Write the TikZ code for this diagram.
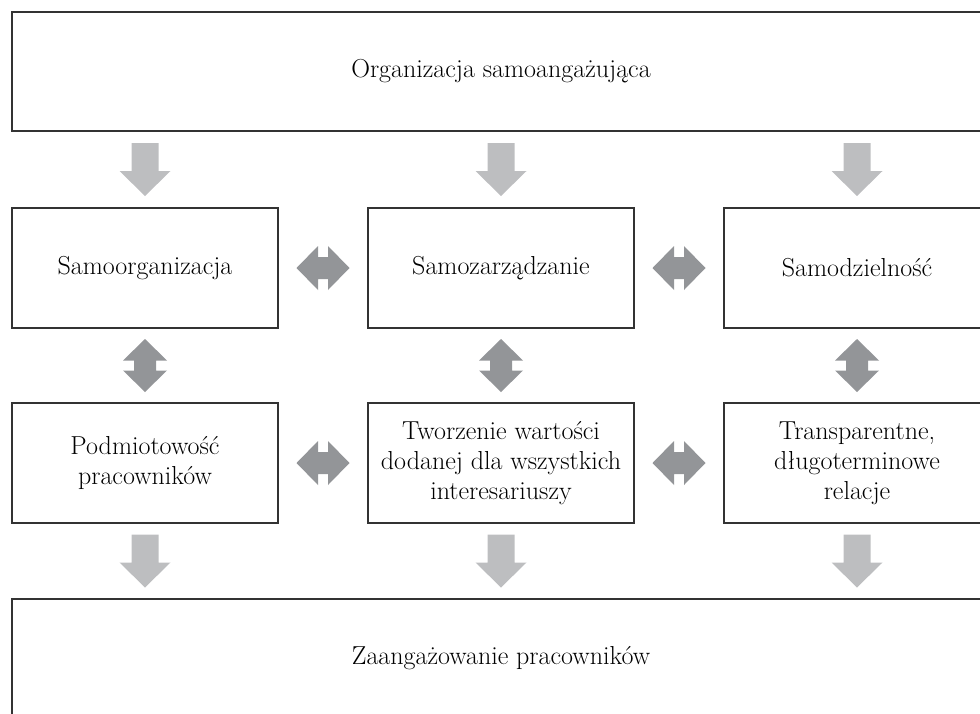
\documentclass[tikz,border=0pt]{standalone}
\usepackage{fontspec}
\usetikzlibrary{calc}
\definecolor{boxline}{HTML}{333333}
\definecolor{lightarr}{HTML}{BDBEC0}
\definecolor{darkarr}{HTML}{939598}
\tikzstyle{bx}=[draw=boxline,line width=1.4pt,minimum width=266pt,minimum height=120pt,align=center,inner sep=0pt,font=\fontsize{26}{30}\selectfont]
\tikzstyle{widebx}=[bx,minimum width=978pt,minimum height=119pt]
\newcommand{\downarr}[1]{\fill[lightarr,shift={(#1)}] (-13.5,-26.5) -- (13.5,-26.5) -- (13.5,1.5) -- (25.5,1.5) -- (0,26.5) -- (-25.5,1.5) -- (-13.5,1.5) -- cycle;}
\newcommand{\harr}[1]{\fill[darkarr,shift={(#1)}] (-26.5,0) -- (-5,-22) -- (-5,-11) -- (5,-11) -- (5,-22) -- (26.5,0) -- (5,22) -- (5,11) -- (-5,11) -- (-5,22) -- cycle;}
\newcommand{\varr}[1]{\fill[darkarr,shift={(#1)}] (0,-26.5) -- (-22,-5) -- (-11,-5) -- (-11,5) -- (-22,5) -- (0,26.5) -- (22,5) -- (11,5) -- (11,-5) -- (22,-5) -- cycle;}

\begin{document}
\begin{tikzpicture}[x=1pt,y=-1pt]
\useasboundingbox (0,0) rectangle (980,713);
\node[widebx] (top) at (501,71.5) {Organizacja samoangażująca};
\node[bx] (samoorg) at (145,268) {Samoorganizacja};
\node[bx] (samozarz) at (501,268) {Samozarządzanie};
\node[bx] (samodz) at (857,268) {Samodzielność};
\node[bx] (podm) at (145,463) {Podmiotowość\\pracowników};
\node[bx] (tworz) at (501,463) {Tworzenie wartości\\dodanej dla wszystkich\\interesariuszy};
\node[bx] (transp) at (857,463) {Transparentne,\\długoterminowe\\relacje};
\node[widebx] (zaang) at (501,658.5) {Zaangażowanie pracowników};
% strzalki w dol
\foreach \n in {samoorg,samozarz,samodz} {\downarr{$(\n.north)!.5!(\n.north |- top.south)$}}
\foreach \n in {podm,tworz,transp} {\downarr{$(\n.south)!.5!(\n.south |- zaang.north)$}}
% strzalki podwojne
\harr{$(samoorg.east)!.5!(samozarz.west)$}
\harr{$(samozarz.east)!.5!(samodz.west)$}
\harr{$(podm.east)!.5!(tworz.west)$}
\harr{$(tworz.east)!.5!(transp.west)$}
\varr{$(samoorg.south)!.5!(podm.north)$}
\varr{$(samozarz.south)!.5!(tworz.north)$}
\varr{$(samodz.south)!.5!(transp.north)$}
\end{tikzpicture}
\end{document}
